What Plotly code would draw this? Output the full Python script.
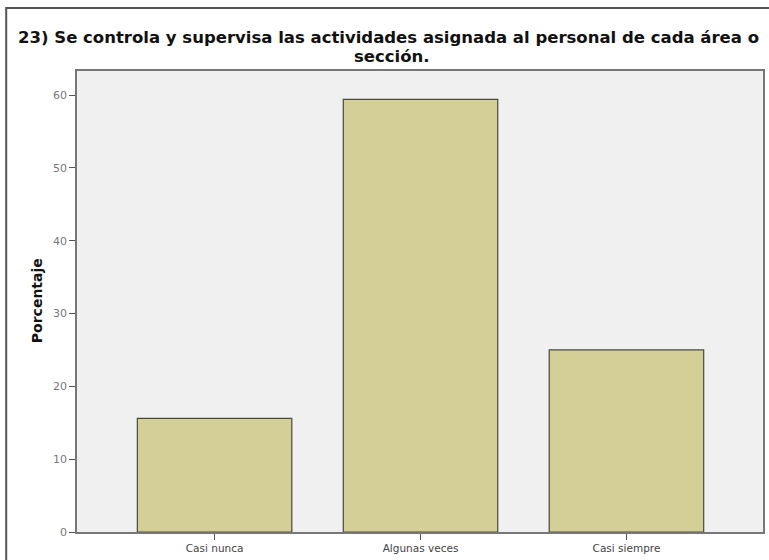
import plotly.graph_objects as go

# Frequencies (percent)
categorias = ["Casi nunca", "Algunas veces", "Casi siempre"]
porcentajes = [15.6, 59.4, 25.0]
y_ticks = [0, 10, 20, 30, 40, 50, 60]

titulo_1 = "<b>23) Se controla y supervisa las actividades asignada al personal de cada área o</b>"
titulo_2 = "<b>sección.</b>"
titulo_y = "<b>Porcentaje</b>"

fuente = "DejaVu Sans, Verdana, sans-serif"

fig = go.Figure(go.Bar(
    x=categorias,
    y=porcentajes,
    width=0.75,
    marker=dict(color="#D3CF97", line=dict(color="#4A4A3C", width=1.2)),
    hoverinfo="x+y",
))

fig.update_layout(
    width=769,
    height=560,
    margin=dict(l=77, r=4, t=71, b=28),
    paper_bgcolor="white",
    plot_bgcolor="#F0F0F0",
    showlegend=False,
    font=dict(family=fuente, color="#333"),
    xaxis=dict(
        range=[-0.668, 2.663],
        showline=True,
        linecolor="#777",
        linewidth=1.5,
        mirror=True,
        ticks="outside",
        ticklen=6,
        tickcolor="#555",
        tickfont=dict(size=10.5, color="#444"),
        showgrid=False,
    ),
    yaxis=dict(
        range=[0, 63.3],
        tickvals=y_ticks,
        showline=True,
        linecolor="#777",
        linewidth=1.5,
        mirror=True,
        ticks="outside",
        ticklen=6,
        tickcolor="#555",
        tickfont=dict(size=11, color="#777"),
        showgrid=False,
        zeroline=False,
    ),
    annotations=[
        dict(text=titulo_1, xref="paper", yref="paper", x=0.4535, y=1.0716,
             xanchor="center", yanchor="middle", showarrow=False,
             font=dict(size=16.5, color="#111")),
        dict(text=titulo_2, xref="paper", yref="paper", x=0.459, y=1.0325,
             xanchor="center", yanchor="middle", showarrow=False,
             font=dict(size=16.5, color="#111")),
        dict(text=titulo_y, xref="paper", yref="paper", x=-0.0581, y=0.501,
             xanchor="center", yanchor="middle", showarrow=False, textangle=-90,
             font=dict(size=14, color="#111")),
    ],
    shapes=[
        # outer frame of the SPSS chart window
        dict(type="rect", xref="paper", yref="paper",
             x0=-0.1032, x1=1.02, y0=-0.08, y1=1.1367,
             line=dict(color="#555", width=2), layer="below"),
    ],
)

fig.write_html("out.html", config={"displayModeBar": False},
               post_script="document.body.style.margin='0px';")
